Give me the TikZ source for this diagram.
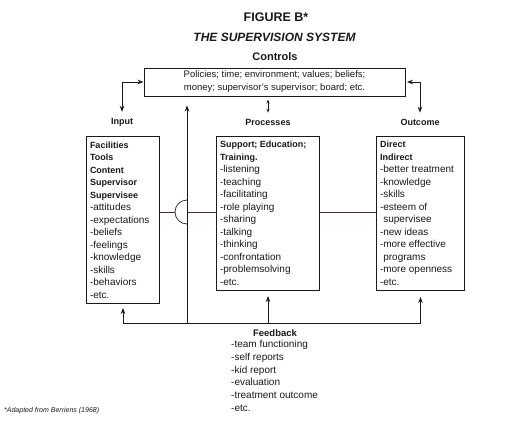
\documentclass[tikz,border=0pt]{standalone}
\usepackage{fontspec}
\setmainfont{Liberation Sans}
\usetikzlibrary{arrows.meta, positioning, calc}
\definecolor{ink}{HTML}{1A1A1A}
\definecolor{linebrown}{HTML}{4A2E2E}
\frenchspacing

\newcommand{\hd}[1]{{\fontsize{9}{12.5}\selectfont\bfseries #1}}

\begin{document}
\begin{tikzpicture}[
  x=1pt, y=-1pt,
  >={Stealth[length=6pt, width=4.5pt]},
  every node/.style={text=ink},
  box/.style={draw=ink, line width=1pt, anchor=north west, align=flush left, inner xsep=3.5pt, inner ysep=0pt, font=\fontsize{10}{12.5}\selectfont},
  heading/.style={font=\fontsize{9}{11}\selectfont\bfseries, inner sep=2pt},
  conn/.style={draw=ink, line width=0.8pt},
]

% Background
\useasboundingbox (0,0) rectangle (512,424);
\fill[white] (0,0) rectangle (512,424);

% Title
\node[font=\fontsize{12.5}{14}\selectfont\bfseries] (fig) at (276,17) {FIGURE B*};
\node[font=\fontsize{12}{14}\selectfont\bfseries\itshape] (title) at (274.5,37) {THE SUPERVISION SYSTEM};
\node[font=\fontsize{11}{13}\selectfont\bfseries] (ctrlhead) at (275,57) {Controls};

% --- Controls box ---
\node[box, anchor=center, align=center, minimum width=261pt, minimum height=28pt, font=\fontsize{9.5}{13}\selectfont] (controls) at (274.5,82) {%
  Policies; time; environment; values; beliefs;\\
  money; supervisor's supervisor; board; etc.};

% Column headings
\node[heading] (inlbl) at (122,122) {Input};
\node[heading] (proclbl) at (268,122) {Processes};
\node[heading] (outlbl) at (420,122) {Outcome};

% --- Input ---
\node[box, text width=66pt, minimum height=167pt] (input) at (86,136) {%
  \hd{Facilities}\\ \hd{Tools}\\ \hd{Content}\\ \hd{Supervisor}\\ \hd{Supervisee}\\
  -attitudes\\ -expectations\\ -beliefs\\ -feelings\\ -knowledge\\ -skills\\ -behaviors\\ -etc.};

% --- Processes ---
\node[box, text width=96pt, minimum height=154pt] (processes) at (216,136) {%
  \hd{Support; Education;}\\ \hd{Training.}\\
  -listening\\ -teaching\\ -facilitating\\ -role playing\\ -sharing\\ -talking\\
  -thinking\\ -confrontation\\ -problemsolving\\ -etc.};

% --- Outcome ---
\node[box, text width=81pt, minimum height=154pt] (outcome) at (376,136) {%
  \hd{Direct}\\ \hd{Indirect}\\
  -better treatment\\ -knowledge\\ -skills\\ -esteem of\\ \phantom{-}supervisee\\
  -new ideas\\ -more effective\\ \phantom{-}programs\\ -more openness\\ -etc.};

% Feedback
\node[font=\fontsize{9.5}{11}\selectfont\bfseries, inner sep=2pt] (fbhead) at (275,333) {Feedback};
\node[anchor=north west, inner sep=0pt, align=left, font=\fontsize{10}{12.8}\selectfont] (fblist) at (231,340) {%
  -team functioning\\ -self reports\\ -kid report\\ -evaluation\\ -treatment outcome\\ -etc.};

% Footnote
\node[anchor=west, inner sep=0pt, font=\fontsize{7}{8}\selectfont\itshape] (note) at (4,411) {*Adapted from Berriens (1968)};

\coordinate (hop) at (187,212);
\coordinate (fbline) at (268,323);

% Controls connections
\draw[conn, <->, shorten <=4pt] (inlbl.north) |- (controls.west);
\draw[conn, <->, shorten <=4pt, shorten >=1.5pt] (outlbl.north) |- (controls.east);
\draw[conn, {Stealth[length=4pt, width=3pt]}-{Stealth[length=4pt, width=3pt]}, shorten <=4pt, shorten >=3pt]
  (proclbl.north) -- (proclbl.north |- controls.south);

% Flow through the system (line hops over the feedback riser)
\draw[conn, linebrown] (input.east |- hop) -- ([xshift=-12pt]hop);
\draw[conn, linebrown] ([yshift=12pt]hop) arc[start angle=90, end angle=270, radius=12pt];
\draw[conn, linebrown] (hop) -- (processes.west |- hop);
\draw[conn, linebrown] (processes.east |- hop) -- (outcome.west |- hop);

% Feedback loop
\draw[conn, ->, shorten >=4pt] (outcome.south |- fbline) -| (input.south);
\draw[conn, ->, shorten >=6pt] (input.south |- fbline) -| (outcome.south);
\draw[conn, ->, shorten >=5pt] (processes.south |- fbline) -- (processes.south);
\draw[conn, ->, shorten >=9pt] (hop |- fbline) -- (hop |- controls.south);

\end{tikzpicture}
\end{document}
